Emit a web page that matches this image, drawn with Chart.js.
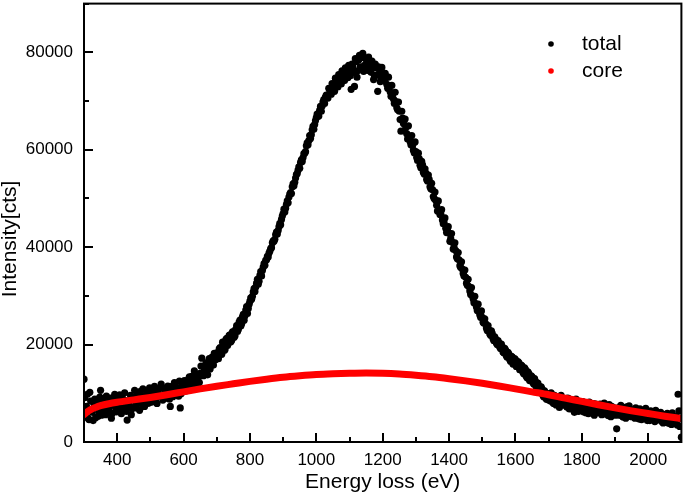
<!DOCTYPE html>
<html><head><meta charset="utf-8">
<script src="https://cdn.jsdelivr.net/npm/chart.js@4/dist/chart.umd.min.js"></script>
<style>html,body{margin:0;padding:0;background:#fff;}</style>
</head><body>
<canvas id="c" width="685" height="495"></canvas>
<script>
// ---- data ----
const energyStart = 300;   // eV, first sample of the "total" spectrum
const energyStep = 5;      // eV between samples of totalCounts
const totalCounts = [
 12900, 5200, 9800, 4600, 8400, 6100, 7900, 5000, 8600, 6400,
 10600, 6300, 8100, 5600, 7700, 6800, 9000, 5900, 8300, 7100,
 8900, 6600, 7800, 9300, 7000, 8500, 4500, 8000, 9600, 6900,
 8600, 7400, 9900, 8100, 10400, 7700, 9000, 8400, 10200, 8000,
 9800, 8300, 10600, 9000, 7900, 10900, 9500, 11200, 9100, 10300,
 10800, 9700, 7300, 11400, 10100, 11900, 10500, 9400, 7000, 11600,
 11000, 12400, 10800, 12900, 11700, 13500, 12100, 14000, 12600, 13300,
 14100, 17200, 13600, 15300, 14400, 16500, 15000, 17400, 15800, 16900,
 18300, 17100, 19400, 18000, 20100, 19000, 21300, 20200, 22000, 20900,
 22600, 21800, 23900, 23100, 25000, 24300, 26200, 25900, 27800, 27400,
 28900, 29300, 30800, 30900, 32600, 32400, 34200, 34100, 35900, 36300,
 37400, 38000, 39200, 39900, 41300, 41600, 43100, 43400, 44900, 45700,
 46900, 47200, 48800, 49100, 50900, 51000, 53000, 53300, 54900, 55800,
 56200, 57900, 58400, 59300, 60800, 61000, 62900, 63100, 64800, 65200,
 66600, 66900, 68100, 67900, 69800, 69500, 71200, 70600, 72300, 71400,
 73400, 72000, 74100, 72900, 74600, 73500, 75600, 74200, 76000, 74800,
 76400, 72400, 77000, 73000, 78100, 76200, 79400, 76800, 79800, 77300,
 78600, 76300, 77900, 75900, 77400, 75200, 76800, 72000, 76400, 74900,
 75600, 74100, 74800, 72600, 73000, 71000, 71400, 69500, 69900, 68200,
 67900, 63800, 66500, 63900, 64600, 62200, 62800, 61000, 60900, 59400,
 59600, 57800, 58200, 56300, 56900, 55000, 55200, 53600, 53900, 52000,
 51800, 50000, 49600, 47400, 47500, 46800, 45600, 45000, 43900, 43400,
 42900, 41800, 41000, 39900, 39300, 37600, 37400, 35800, 35500, 34100,
 33800, 32200, 31900, 30300, 30000, 28600, 28400, 27000, 26800, 25600,
 25600, 24400, 24300, 22900, 23000, 21900, 22300, 20800, 21200, 20000,
 20400, 19200, 19600, 18300, 18900, 17400, 18100, 16600, 17500, 16200,
 16900, 15600, 16300, 14800, 15600, 14000, 14900, 13200, 14100, 12700,
 13400, 11900, 12500, 11000, 11600, 10200, 10900, 9300, 10100, 8700,
 9800, 8400, 9500, 7900, 9000, 8000, 9200, 7500, 8800, 7700,
 8600, 7200, 8900, 7000, 8200, 6600, 8500, 7400, 6300, 7900,
 7700, 6200, 8000, 6800, 5800, 7600, 6500, 7900, 5900, 7200,
 6400, 7800, 5600, 7100, 6000, 7500, 5400, 6900, 7300, 5800,
 6600, 2700, 7000, 5500, 6800, 5100, 6300, 7200, 5700, 6500,
 5200, 6600, 4900, 6100, 5500, 6800, 4600, 5900, 6300, 4800,
 5800, 4400, 6200, 5000, 4200, 5700, 6000, 4500, 5400, 3900,
 5300, 4000, 5600, 4400, 3600, 5000, 4100, 5200, 9800, 3200,
 1000
];
// samples half-way between the ones above (302.5, 307.5, ... 2097.5 eV)
const totalCountsMid = [
 9100, 7300, 4900, 10200, 6700, 4400, 8800, 7400, 5300, 9200,
 5500, 8800, 7200, 9400, 6100, 8700, 4900, 7900, 9800, 6200,
 7400, 9700, 5800, 8300, 10100, 6300, 8100, 7200, 5600, 9100,
 10600, 7000, 8700, 6500, 9300, 10900, 7300, 9700, 8000, 11100,
 8200, 10100, 11400, 8100, 10500, 9400, 11900, 8600, 10800, 9000,
 11500, 8800, 10700, 9300, 12200, 10200, 11000, 12500, 9900, 10400,
 12600, 10500, 11800, 13400, 11200, 12800, 14600, 11900, 13800, 12200,
 15600, 13900, 14800, 16200, 13800, 17100, 15800, 16300, 18200, 17000,
 17600, 19100, 18600, 20500, 18800, 21000, 19800, 21900, 20600, 22600,
 21500, 23200, 22700, 24600, 23800, 25700, 25000, 27100, 26400, 28300,
 29600, 29900, 31500, 31800, 33400, 33000, 35000, 35200, 36600, 37300,
 38100, 38800, 39700, 40900, 41200, 42600, 42700, 44200, 44600, 46400,
 47800, 48000, 49500, 50300, 51200, 52400, 52600, 54200, 55100, 56500,
 57400, 57600, 59200, 59600, 61400, 61900, 62300, 64100, 64200, 66000,
 67300, 66900, 68900, 69000, 70300, 70800, 70900, 72600, 71800, 73600,
 72600, 74700, 73300, 75400, 73900, 76200, 74600, 76800, 75100, 77300,
 75200, 77600, 75900, 78700, 74900, 78400, 77000, 78900, 76100, 78800,
 77100, 79000, 76600, 78200, 74400, 77600, 75300, 77000, 74000, 76900,
 74800, 75700, 73400, 74900, 71900, 73200, 70400, 71800, 68600, 69800,
 66200, 67900, 65400, 66300, 63300, 64900, 61700, 62900, 59900, 61600,
 58400, 59300, 56800, 57600, 55400, 56100, 53900, 54800, 52400, 53100,
 50400, 51300, 48600, 49500, 46700, 47700, 44800, 46000, 43000, 44200,
 41200, 42800, 39600, 40900, 38000, 38900, 36200, 37000, 34600, 35300,
 32600, 33400, 31000, 31700, 29400, 29900, 27700, 28300, 26100, 26900,
 24600, 25300, 23400, 23900, 22200, 22800, 21200, 21600, 20300, 20800,
 19500, 20100, 18500, 19200, 17700, 18400, 17000, 17600, 16000, 17100,
 15500, 16500, 14900, 15800, 14300, 15200, 13500, 14400, 12600, 13600,
 12200, 13000, 11300, 12100, 10400, 11300, 9600, 10500, 8900, 9900,
 8600, 10100, 8100, 9600, 7600, 8900, 7100, 9600, 7800, 8400,
 7400, 9000, 6800, 8100, 7700, 6100, 8800, 6900, 7800, 6500,
 8300, 7000, 6000, 7400, 8200, 6300, 7200, 5500, 7800, 6600,
 7400, 5900, 6700, 8000, 5700, 6600, 7700, 5200, 6200, 7000,
 5500, 6900, 6100, 7500, 5300, 6400, 4900, 6700, 7400, 5300,
 6200, 5100, 7000, 5600, 4700, 6500, 5800, 5100, 6900, 4400,
 5500, 6400, 4700, 5600, 6500, 4600, 5200, 6100, 4100, 5600,
 4600, 5900, 3800, 5100, 6000, 4300, 4800, 3500, 6400, 4900
];
const coreEnergy = [300, 310, 320, 335, 350, 375, 400, 450, 500, 550, 600, 650, 700, 750, 800, 850, 900, 950, 1000, 1050,
  1100, 1150, 1200, 1250, 1300, 1350, 1400, 1450, 1500, 1550, 1600, 1650, 1700, 1750, 1800, 1850, 1900, 1950, 2000, 2050, 2100];
const coreCounts = [5600, 6200, 6650, 7100, 7450, 7850, 8150, 8650, 9150, 9700, 10300, 10900, 11450, 11950, 12450, 12900, 13300, 13600, 13850, 14000,
  14100, 14150, 14100, 13950, 13700, 13400, 13000, 12550, 12050, 11500, 10900, 10300, 9700, 9000, 8350, 7650, 7000, 6400, 5850, 5300, 4800];
const seriesNames = ['total', 'core'];
const xTickValues = [400, 600, 800, 1000, 1200, 1400, 1600, 1800, 2000];
const yTickValues = [0, 20000, 40000, 60000, 80000];
const xMinorStep = 100, yMinorStep = 10000;
const xTitle = 'Energy loss (eV)';
const yTitle = 'Intensity[cts]';

// ---- chart ----
const FONT = '"Liberation Sans", Arial, Helvetica, sans-serif';
const totalData = [];
totalCounts.forEach((v, i) => {
  totalData.push({ x: energyStart + i * energyStep, y: v });
  if (i < totalCountsMid.length) totalData.push({ x: energyStart + i * energyStep + energyStep / 2, y: totalCountsMid[i] });
});
const coreData = coreCounts.map((v, i) => ({ x: coreEnergy[i], y: v }));
const colors = ['#000000', '#ff0000'];

const framePlugin = {
  id: 'frame',
  afterDraw(chart) {
    const { ctx, chartArea: a, scales: { x, y } } = chart;
    ctx.save();
    ctx.strokeStyle = '#000';
    ctx.lineWidth = 2;
    ctx.strokeRect(a.left, a.top, a.right - a.left, a.bottom - a.top);
    ctx.beginPath();
    for (let v = x.min; v <= x.max; v += xMinorStep) {
      const px = Math.round(x.getPixelForValue(v));
      const len = xTickValues.includes(v) ? 9 : 5;
      ctx.moveTo(px, a.bottom); ctx.lineTo(px, a.bottom - len);
    }
    for (let v = y.min; v <= y.max; v += yMinorStep) {
      const py = Math.round(y.getPixelForValue(v));
      const len = yTickValues.includes(v) ? 9 : 5;
      ctx.moveTo(a.left, py); ctx.lineTo(a.left + len, py);
    }
    ctx.stroke();
    // y-axis title
    ctx.fillStyle = '#000';
    ctx.font = '21px ' + FONT;
    ctx.translate(16, 239);
    ctx.rotate(-Math.PI / 2);
    ctx.textAlign = 'center';
    ctx.textBaseline = 'alphabetic';
    ctx.fillText(yTitle, 0, 0);
    ctx.restore();
    // legend
    ctx.save();
    ctx.font = '21px ' + FONT;
    ctx.textBaseline = 'middle';
    ctx.textAlign = 'left';
    const rows = [44, 71];
    seriesNames.forEach((name, i) => {
      ctx.fillStyle = colors[i];
      ctx.beginPath();
      ctx.arc(551, rows[i], 2.8, 0, Math.PI * 2);
      ctx.fill();
      ctx.fillStyle = '#000';
      ctx.fillText(name, 582, rows[i] + 0.5);
    });
    ctx.restore();
  }
};

new Chart(document.getElementById('c'), {
  type: 'scatter',
  data: {
    datasets: [
      { label: seriesNames[0], data: totalData, backgroundColor: colors[0], borderWidth: 0, pointRadius: 3.6, pointHoverRadius: 3.6, order: 2 },
      { label: seriesNames[1], data: coreData, showLine: true, borderColor: colors[1], backgroundColor: colors[1],
        borderWidth: 7, pointRadius: 0, cubicInterpolationMode: 'monotone', borderCapStyle: 'round', order: 1 }
    ]
  },
  options: {
    responsive: false,
    animation: false,
    devicePixelRatio: 1,
    layout: { padding: { top: 1, right: 1, left: 0, bottom: 0 } },
    plugins: { legend: { display: false }, tooltip: { enabled: false } },
    scales: {
      x: {
        type: 'linear', min: 300, max: 2100,
        afterBuildTicks: s => { s.ticks = xTickValues.map(v => ({ value: v })); },
        afterFit: s => { s.height = 53; s.paddingLeft = 0; s.paddingRight = 0; },
        grid: { display: false, drawTicks: false },
        border: { display: false },
        ticks: { font: { family: FONT, size: 17 }, color: '#000', padding: 8, maxRotation: 0, autoSkip: false, callback: v => String(v) },
        title: { display: true, text: xTitle, font: { family: FONT, size: 21 }, color: '#000', padding: { top: 0, bottom: 0 } }
      },
      y: {
        type: 'linear', min: 0, max: 90000,
        afterBuildTicks: s => { s.ticks = yTickValues.map(v => ({ value: v })); },
        afterFit: s => { s.width = 84; s.paddingTop = 0; s.paddingBottom = 0; },
        grid: { display: false, drawTicks: false },
        border: { display: false },
        ticks: { font: { family: FONT, size: 17 }, color: '#000', padding: 11, autoSkip: false, callback: v => String(v) }
      }
    }
  },
  plugins: [framePlugin]
});
</script>
</body></html>
